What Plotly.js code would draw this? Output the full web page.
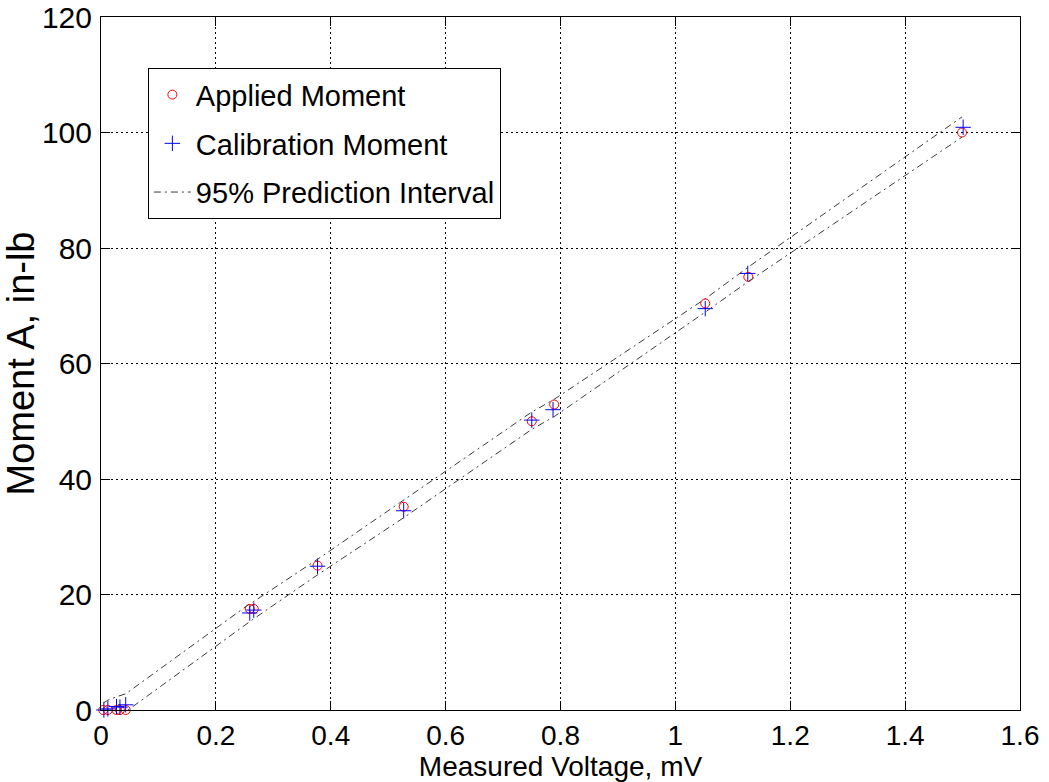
<!DOCTYPE html>
<html>
<head>
<meta charset="utf-8">
<script src="https://cdn.plot.ly/plotly-3.0.1.min.js"></script>
<style>
  html, body { margin: 0; padding: 0; background: #ffffff; }
  #chart { width: 1049px; height: 782px; }
</style>
</head>
<body>
<div id="chart"></div>
<script>
// Applied moment (red circles)
const appliedX = [0.004, 0.012, 0.027, 0.033, 0.043, 0.259, 0.266, 0.377, 0.527, 0.750, 0.789, 1.052, 1.127, 1.499];
const appliedY = [0, 0, 0, 0, 0, 17.5, 17.5, 25.0, 35.2, 50.0, 52.9, 70.4, 75.0, 100.0];

// Calibration moment (blue plus)
const calibX = [0.005, 0.012, 0.027, 0.033, 0.043, 0.259, 0.266, 0.377, 0.527, 0.750, 0.787, 1.052, 1.126, 1.501];
const calibY = [0.0, 0.2, 0.6, 0.5, 0.9, 16.8, 17.3, 24.9, 34.5, 50.2, 52.0, 69.5, 75.6, 100.9];

// 95% prediction interval bounds
const boundX = [0.004, 0.012, 0.027, 0.033, 0.043, 0.259, 0.266, 0.377, 0.527, 0.750, 0.789, 1.052, 1.127, 1.499];
const upperY = [1.2, 1.7, 2.3, 2.5, 2.8, 18.4, 18.8, 26.1, 36.4, 51.6, 53.8, 71.2, 76.7, 102.7];
const lowerY = [-2.3, -1.8, -0.9, -0.7, -0.3, 15.3, 15.8, 23.4, 33.3, 48.6, 50.8, 68.9, 74.2, 99.2];

// Axis ticks
const xTicks = [0, 0.2, 0.4, 0.6, 0.8, 1, 1.2, 1.4, 1.6];
const xTickText = ['0', '0.2', '0.4', '0.6', '0.8', '1', '1.2', '1.4', '1.6'];
const yTicks = [0, 20, 40, 60, 80, 100, 120];
const yTickText = ['0', '20', '40', '60', '80', '100', '120'];

const FONT = 'Liberation Sans, Arial, Helvetica, sans-serif';
const dashDot = '7px,4px,2px,4px';

const traces = [
  {
    x: appliedX, y: appliedY, type: 'scatter', mode: 'markers',
    name: 'Applied Moment', legendgroup: 'a',
    cliponaxis: false,
    marker: { symbol: 'circle-open', size: 9, color: '#ff0000', line: { color: '#ff0000', width: 1 } }
  },
  {
    x: calibX, y: calibY, type: 'scatter', mode: 'markers',
    name: 'Calibration Moment', legendgroup: 'b',
    cliponaxis: false,
    marker: { symbol: 'cross-thin-open', size: 11, color: '#0000ff', line: { color: '#0000ff', width: 1 } }
  },
  {
    x: boundX, y: upperY, type: 'scatter', mode: 'lines',
    name: '95% Prediction Interval', legendgroup: 'c',
    line: { color: '#3a3a3a', width: 1, dash: dashDot }
  },
  {
    x: boundX, y: lowerY, type: 'scatter', mode: 'lines',
    name: '95% Prediction Interval', legendgroup: 'c', showlegend: false,
    line: { color: '#3a3a3a', width: 1, dash: dashDot }
  }
];

const axisCommon = {
  showline: true, linecolor: '#000000', linewidth: 1, mirror: 'ticks',
  ticks: 'inside', ticklen: 9, tickwidth: 1, tickcolor: '#000000',
  showgrid: true, gridcolor: '#000000', gridwidth: 1, griddash: '2px,3px',
  zeroline: false
};

const layout = {
  width: 1049, height: 782,
  margin: { l: 101, r: 29, t: 17, b: 72 },
  paper_bgcolor: '#ffffff', plot_bgcolor: '#ffffff',
  font: { family: FONT, size: 28, color: '#000000' },
  showlegend: true,
  legend: {
    x: 0.051, y: 0.926, xanchor: 'left', yanchor: 'top',
    bgcolor: '#ffffff', bordercolor: '#000000', borderwidth: 1,
    font: { family: FONT, size: 29, color: '#000000' },
    traceorder: 'grouped', tracegroupgap: 8, itemwidth: 37
  },
  xaxis: Object.assign({}, axisCommon, {
    range: [0, 1.6], tickmode: 'array', tickvals: xTicks, ticktext: xTickText,
    ticklabelstandoff: 0,
    tickfont: { family: FONT, size: 28, color: '#000000' },
    title: { text: 'Measured Voltage, mV', font: { family: FONT, size: 28, color: '#000000' }, standoff: 2 }
  }),
  yaxis: Object.assign({}, axisCommon, {
    range: [0, 120], tickmode: 'array', tickvals: yTicks, ticktext: yTickText,
    ticklabelstandoff: 2,
    tickfont: { family: FONT, size: 30, color: '#000000' },
    title: { text: 'Moment A, in-lb', font: { family: FONT, size: 38, color: '#000000' }, standoff: 4 }
  })
};

Plotly.newPlot('chart', traces, layout, { displayModeBar: false, staticPlot: true });
</script>
</body>
</html>
